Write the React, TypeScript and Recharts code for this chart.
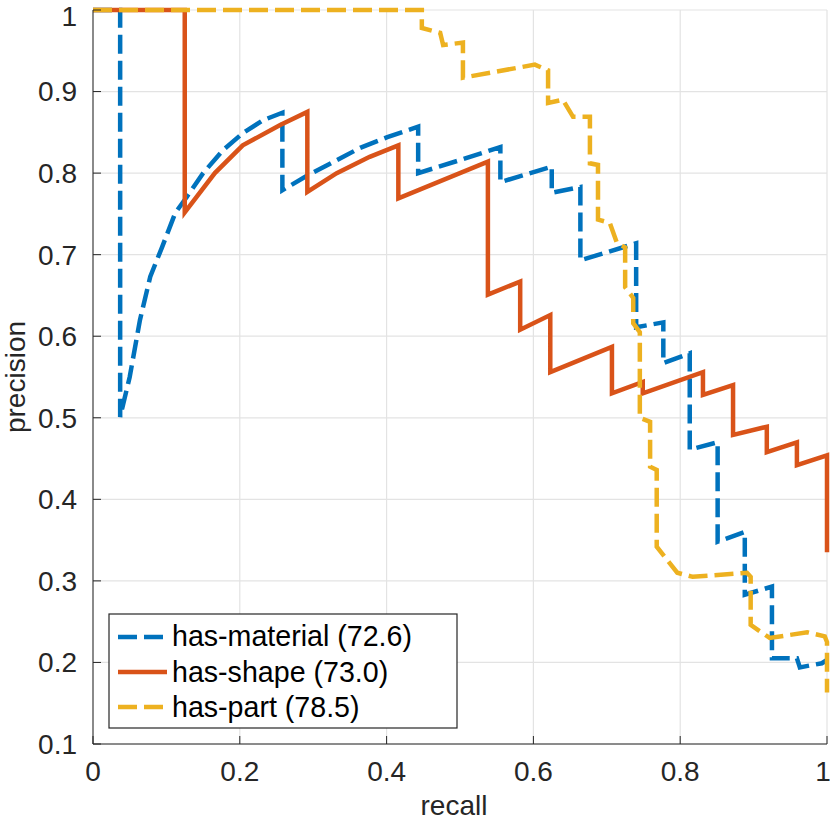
import React from "react";
import { LineChart, Line, XAxis, YAxis, CartesianGrid } from "recharts";

const FONT = '"Liberation Sans", Arial, Helvetica, sans-serif';
const INK = "#262626";
const GRID = "#e3e3e3";

const recallTicks = [0, 0.2, 0.4, 0.6, 0.8, 1];
const precisionTicks = [0.1, 0.2, 0.3, 0.4, 0.5, 0.6, 0.7, 0.8, 0.9, 1];

// has-material
const materialRecall = [
  0, 0.037, 0.037, 0.05, 0.064, 0.078, 0.094, 0.112, 0.128, 0.15, 0.177, 0.204, 0.232, 0.258,
  0.258, 0.292, 0.341, 0.364, 0.401, 0.443, 0.443, 0.5, 0.555, 0.555, 0.625, 0.625, 0.664,
  0.664, 0.74, 0.74, 0.777, 0.777, 0.813, 0.813, 0.851, 0.851, 0.888, 0.888, 0.925, 0.925,
  0.959, 0.963, 0.993, 1.0,
];
const materialPrecision = [
  1, 1, 0.501, 0.55, 0.62, 0.673, 0.709, 0.751, 0.771, 0.8, 0.828, 0.849, 0.865, 0.874,
  0.779, 0.797, 0.82, 0.831, 0.844, 0.857, 0.8, 0.816, 0.832, 0.789, 0.808, 0.776, 0.783,
  0.693, 0.714, 0.611, 0.617, 0.567, 0.579, 0.461, 0.47, 0.348, 0.36, 0.283, 0.293, 0.205,
  0.205, 0.194, 0.199, 0.203,
];

// has-shape
const shapeRecall = [
  0, 0.125, 0.125, 0.166, 0.204, 0.255, 0.292, 0.292, 0.332, 0.377, 0.416, 0.416, 0.538,
  0.538, 0.582, 0.582, 0.623, 0.623, 0.707, 0.707, 0.749, 0.749, 0.831, 0.831, 0.872, 0.872,
  0.918, 0.918, 0.959, 0.959, 1.0, 1.0,
];
const shapePrecision = [
  1, 1, 0.752, 0.8, 0.834, 0.859, 0.875, 0.777, 0.8, 0.82, 0.834, 0.769, 0.814, 0.651,
  0.667, 0.608, 0.626, 0.556, 0.587, 0.53, 0.544, 0.53, 0.556, 0.528, 0.54, 0.479, 0.489,
  0.458, 0.47, 0.442, 0.454, 0.335,
];

// has-part
const partRecall = [
  0, 0.448, 0.448, 0.473, 0.477, 0.504, 0.504, 0.602, 0.62, 0.62, 0.64, 0.654, 0.677, 0.677,
  0.688, 0.688, 0.704, 0.714, 0.725, 0.725, 0.736, 0.736, 0.745, 0.745, 0.759, 0.759, 0.768,
  0.768, 0.796, 0.817, 0.891, 0.896, 0.896, 0.922, 0.973, 0.997, 1.0, 1.0,
];
const partPrecision = [
  1, 1, 0.978, 0.972, 0.957, 0.96, 0.917, 0.933, 0.926, 0.886, 0.89, 0.869, 0.869, 0.812,
  0.81, 0.743, 0.739, 0.714, 0.709, 0.66, 0.647, 0.616, 0.605, 0.5, 0.495, 0.44, 0.436,
  0.342, 0.31, 0.305, 0.31, 0.305, 0.246, 0.23, 0.237, 0.232, 0.225, 0.163,
];

const zip = (r: number[], p: number[]) => r.map((x, i) => ({ r: x, p: p[i] }));

const series = [
  { name: "has-material (72.6)", color: "#0072BD", dash: "19 7", data: zip(materialRecall, materialPrecision) },
  { name: "has-shape (73.0)", color: "#D95319", dash: undefined, data: zip(shapeRecall, shapePrecision) },
  { name: "has-part (78.5)", color: "#EDB120", dash: "19 7", data: zip(partRecall, partPrecision) },
];

const tickStyle = { fontSize: 28, fill: INK, fontFamily: FONT };

function LegendBox() {
  return (
    <svg
      width={350}
      height={116}
      style={{ position: "absolute", left: 108, top: 613 }}
    >
      <rect x={1} y={1} width={348} height={114} fill="#fff" stroke={INK} strokeWidth={1.2} />
      {series.map((s, i) => (
        <g key={s.name}>
          <line
            x1={10}
            x2={59}
            y1={24 + i * 35}
            y2={24 + i * 35}
            stroke={s.color}
            strokeWidth={4.5}
            strokeDasharray={s.dash}
          />
          <text x={64} y={33 + i * 35.5} fontSize={28.6} fill="#000" fontFamily={FONT}>
            {s.name}
          </text>
        </g>
      ))}
    </svg>
  );
}

export default function App() {
  return (
    <div style={{ position: "absolute", left: 0, top: 0, width: 830, height: 822, background: "#fff" }}>
      <LineChart width={830} height={822} margin={{ top: 10, right: 3, bottom: 0, left: 0 }}>
        <CartesianGrid stroke={GRID} strokeWidth={1.2} />
        <XAxis
          dataKey="r"
          type="number"
          domain={[0, 1]}
          ticks={recallTicks}
          height={78}
          tickSize={-8}
          tickMargin={25}
          stroke={INK}
          tick={tickStyle}
          label={{
            content: ({ viewBox }: any) => (
              <text
                x={viewBox.x + viewBox.width / 2 - 6}
                y={viewBox.y + viewBox.height - 7}
                textAnchor="middle"
                fontSize={28}
                fill={INK}
                fontFamily={FONT}
              >
                recall
              </text>
            ),
          }}
        />
        <XAxis
          xAxisId="top"
          orientation="top"
          type="number"
          domain={[0, 1]}
          ticks={recallTicks}
          height={0}
          tickSize={-8}
          tick={false}
          stroke={INK}
        />
        <YAxis
          type="number"
          domain={[0.1, 1]}
          ticks={precisionTicks}
          width={93}
          tickSize={-8}
          tickMargin={24}
          stroke={INK}
          tick={tickStyle}
          label={{
            content: ({ viewBox }: any) => {
              const cx = viewBox.x + 25;
              const cy = viewBox.y + viewBox.height / 2;
              return (
                <text
                  x={cx}
                  y={cy}
                  transform={`rotate(-90, ${cx}, ${cy})`}
                  textAnchor="middle"
                  fontSize={28}
                  fill={INK}
                  fontFamily={FONT}
                >
                  precision
                </text>
              );
            },
          }}
        />
        <YAxis
          yAxisId="right"
          orientation="right"
          type="number"
          domain={[0.1, 1]}
          ticks={precisionTicks}
          width={0}
          tickSize={-8}
          tick={false}
          stroke={INK}
        />
        {series.map((s) => (
          <Line
            key={s.name}
            data={s.data}
            dataKey="p"
            name={s.name}
            type="linear"
            stroke={s.color}
            strokeWidth={4.5}
            strokeDasharray={s.dash}
            dot={false}
            activeDot={false}
            isAnimationActive={false}
          />
        ))}
      </LineChart>
      <LegendBox />
    </div>
  );
}
